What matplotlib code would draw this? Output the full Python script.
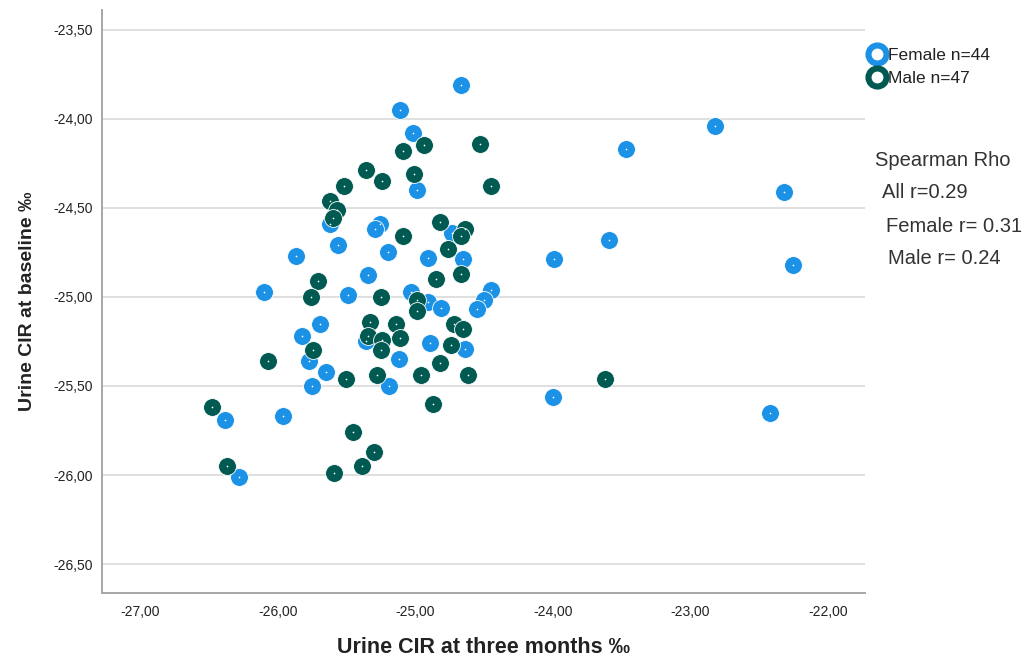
import matplotlib
matplotlib.use('Agg')
import matplotlib.pyplot as plt
from matplotlib.lines import Line2D
from matplotlib.ticker import FuncFormatter, MultipleLocator

plt.rcParams['font.family'] = ['Liberation Sans', 'DejaVu Sans']

# urine CIR (per mil): three months (x) vs baseline (y)
female_x = [-24.67, -25.11, -25.02, -24.99, -25.62, -25.26, -25.29, -25.56, -25.87, -25.20,
            -24.73, -24.91, -24.65, -25.34, -26.10, -25.49, -25.03, -24.91, -24.81, -24.45,
            -24.50, -24.55, -25.69, -25.82, -25.36, -24.89, -24.64, -25.77, -25.12, -25.65,
            -25.75, -25.19, -26.38, -25.96, -26.28, -22.82, -23.47, -22.32, -23.59, -23.99,
            -22.25, -24.00, -22.42]
female_y = [-23.81, -23.95, -24.08, -24.40, -24.59, -24.59, -24.62, -24.71, -24.77, -24.75,
            -24.64, -24.78, -24.79, -24.88, -24.97, -24.99, -24.97, -25.03, -25.06, -24.96,
            -25.02, -25.07, -25.15, -25.22, -25.25, -25.26, -25.29, -25.36, -25.35, -25.42,
            -25.50, -25.50, -25.69, -25.67, -26.01, -24.04, -24.17, -24.41, -24.68, -24.79,
            -24.82, -25.56, -25.65]

male_x = [-24.94, -25.09, -24.53, -25.36, -25.24, -25.01, -24.45, -25.52, -25.62, -25.57,
          -25.60, -25.09, -24.82, -24.64, -24.67, -24.76, -25.71, -24.85, -24.67, -25.76,
          -25.25, -24.99, -24.99, -25.33, -25.14, -25.11, -24.72, -24.65, -25.34, -25.24,
          -25.25, -24.74, -25.74, -26.07, -24.82, -25.50, -25.28, -24.96, -24.62, -26.48,
          -24.87, -25.45, -25.30, -25.39, -26.37, -25.59, -23.62]
male_y = [-24.15, -24.18, -24.14, -24.29, -24.35, -24.31, -24.38, -24.38, -24.46, -24.51,
          -24.56, -24.66, -24.58, -24.62, -24.66, -24.73, -24.91, -24.90, -24.87, -25.00,
          -25.00, -25.02, -25.08, -25.14, -25.15, -25.23, -25.15, -25.18, -25.22, -25.24,
          -25.30, -25.27, -25.30, -25.36, -25.37, -25.46, -25.44, -25.44, -25.44, -25.62,
          -25.60, -25.76, -25.87, -25.95, -25.95, -25.99, -25.46]

female_label = 'Female n=44'
male_label = 'Male n=47'
stats_lines = ['Spearman Rho', 'All r=0.29', 'Female r= 0.31', 'Male r= 0.24']

blue = '#1b92e6'
green = '#005a52'

fig = plt.figure(figsize=(10.25, 6.61), dpi=100)
ax = fig.add_axes([0.0992, 0.1033, 0.7447, 0.8817])

for xs, ys, c in [(female_x, female_y, blue), (male_x, male_y, green)]:
    ax.scatter(xs, ys, s=165, color=c, edgecolors='white', linewidths=0.6, zorder=3)
    ax.scatter(xs, ys, s=1.5, color='white', linewidths=0, zorder=4)

ax.set_xlim(-27.28, -21.73)
ax.set_ylim(-26.66, -23.39)
ax.xaxis.set_major_locator(MultipleLocator(1))
ax.yaxis.set_major_locator(MultipleLocator(0.5))
fmt = FuncFormatter(lambda v, p: ('%.2f' % v).replace('.', ','))
ax.xaxis.set_major_formatter(fmt)
ax.yaxis.set_major_formatter(fmt)
ax.tick_params(length=0, labelsize=10, colors='#222222')
ax.tick_params(axis='x', pad=9)
ax.tick_params(axis='y', pad=6)

ax.grid(axis='y', color='#d9d9d9', linewidth=1.2)
ax.set_axisbelow(True)
for side in ['top', 'right']:
    ax.spines[side].set_visible(False)
for side in ['left', 'bottom']:
    ax.spines[side].set_color('#a6a6a6')
    ax.spines[side].set_linewidth(1.4)

ax.set_xlabel('Urine CIR at three months \u2030', fontsize=15.5, fontweight='bold',
              color='#222222', labelpad=13)
ax.set_ylabel('Urine CIR at baseline \u2030', fontsize=14, fontweight='bold',
              color='#222222', labelpad=13)

handles = [Line2D([], [], linestyle='none', marker='o', markersize=13,
                  markerfacecolor='white', markeredgecolor=blue, markeredgewidth=4.4),
           Line2D([], [], linestyle='none', marker='o', markersize=13,
                  markerfacecolor='white', markeredgecolor=green, markeredgewidth=4.4)]
fig.legend(handles, [female_label, male_label], loc='upper left',
           bbox_to_anchor=(0.84, 0.94), frameon=False, fontsize=12.5,
           handlelength=0.9, handletextpad=0.15, labelspacing=0.4,
           borderpad=0, labelcolor='#222222')

stat_x = [875, 882, 886, 888]
stat_y = [161, 193, 226, 258]
for txt, px, py in zip(stats_lines, stat_x, stat_y):
    fig.text(px / 1025, 1 - py / 661, txt, fontsize=14.5, color='#333333',
             ha='left', va='center')

fig.savefig('out.png', dpi=100)
